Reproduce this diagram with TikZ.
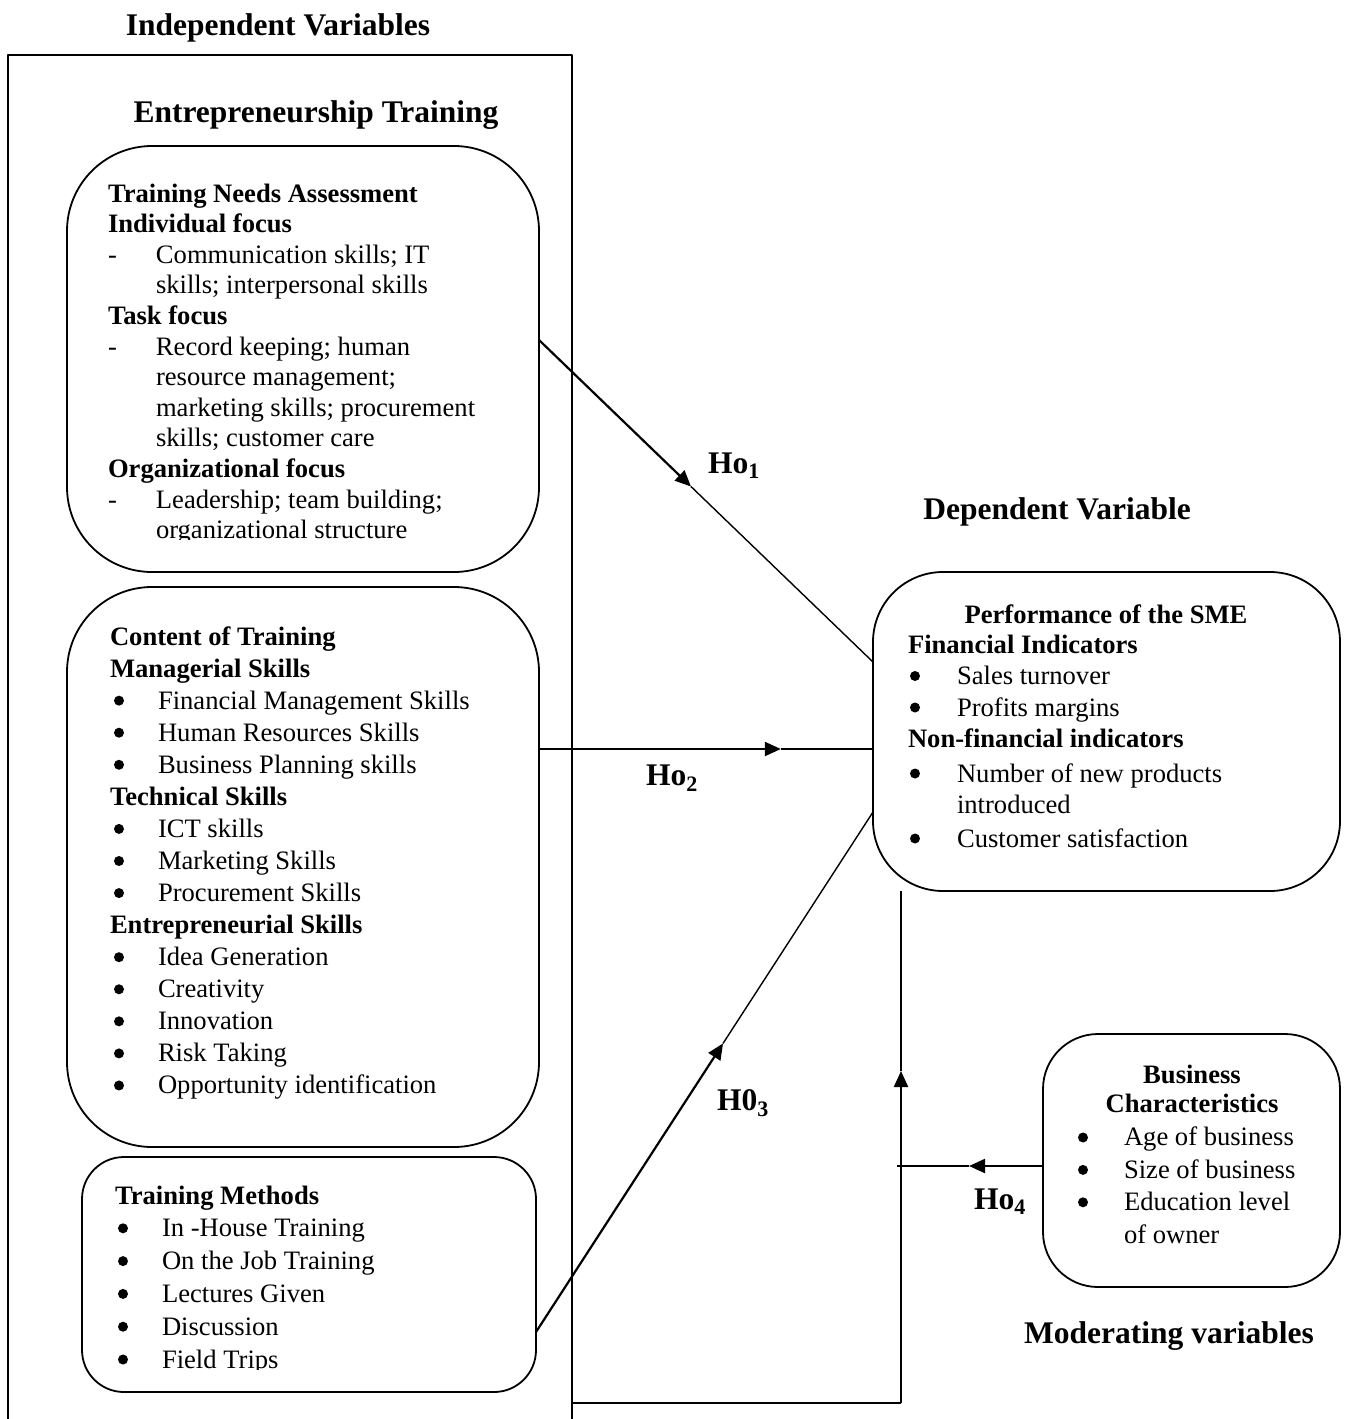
\documentclass[tikz,border=0pt]{standalone}
\usepackage{fontspec}
\setmainfont{Liberation Serif}
\usetikzlibrary{arrows.meta,calc}
\newcommand\bodyfont[1]{\fontsize{26.6pt}{#1}\selectfont}
\newcommand\titlefont{\fontsize{31.5pt}{36pt}\selectfont\bfseries}
\newcommand\bitem[2]{\hspace*{#1}#2}
\newcommand\ditem[2]{\makebox[#1][l]{-}#2}
\newcommand\contline[2]{\hspace*{#1}#2}
\begin{document}
\begin{tikzpicture}[x=1pt,y=-1pt,line join=round,
  box/.style={draw,line width=1.8pt,rounded corners=#1,inner sep=0pt,outer sep=0pt},
  txt/.style={inner sep=0pt,outer sep=0pt,anchor=north west,align=left},
  ttl/.style={inner sep=0pt,outer sep=0pt,anchor=base,font=\titlefont},
  lbl/.style={inner sep=0pt,outer sep=0pt,anchor=base west,font=\titlefont},
  arr/.style={line width=2.2pt,-{Triangle[length=16pt,width=14pt]}},
  tail/.style={line width=1.4pt},
  dot/.style={fill=black}]
\fill[white] (0,0) rectangle (1349,1419);
\useasboundingbox (0,0) rectangle (1349,1419);

% titles
\node[ttl] (tindep) at (278,35) {Independent Variables};
\node[ttl] (tentre) at (316,122) {Entrepreneurship Training};
\node[ttl] (tdep) at (1057,519) {Dependent Variable};
\node[ttl] (tmod) at (1169,1343) {Moderating variables};

% outer frame of independent variables
\draw[line width=1.8pt] (8,1430) -- (8,55) -- (572,55) -- (572,1430);
\coordinate (orb) at (572,1403);

% boxes
\node[box=85pt,minimum width=472pt,minimum height=426pt] (tna) at (303,359) {};
\node[box=85pt,minimum width=472pt,minimum height=560pt] (cont) at (303,867) {};
\node[box=42pt,minimum width=454pt,minimum height=235pt] (meth) at (309,1274.5) {};
\node[box=70pt,minimum width=467pt,minimum height=319pt] (dv) at (1106.5,731.5) {};
\node[box=55pt,minimum width=297pt,minimum height=253pt] (mod) at (1191.5,1160.5) {};

% box texts
\begin{scope}
\clip (60,150) rectangle (545,539);
\node[txt,font=\bodyfont{30.6pt}] (tnatext) at (108,180.6) {%
\strut\textbf{Training Needs Assessment}\\
\textbf{Individual focus}\\
\ditem{48pt}{Communication skills; IT}\\
\contline{48pt}{skills; interpersonal skills}\\
\textbf{Task focus}\\
\ditem{48pt}{Record keeping; human}\\
\contline{48pt}{resource management;}\\
\contline{48pt}{marketing skills; procurement}\\
\contline{48pt}{skills; customer care}\\
\textbf{Organizational focus}\\
\ditem{48pt}{Leadership; team building;}\\
\contline{48pt}{organizational structure}};
\end{scope}

\node[txt,font=\bodyfont{32.07pt}] (conttext) at (110,622.55) {%
\strut\textbf{Content of Training}\\
\textbf{Managerial Skills}\\
\bitem{48pt}{Financial Management Skills}\\
\bitem{48pt}{Human Resources Skills}\\
\bitem{48pt}{Business Planning skills}\\
\textbf{Technical Skills}\\
\bitem{48pt}{ICT skills}\\
\bitem{48pt}{Marketing Skills}\\
\bitem{48pt}{Procurement Skills}\\
\textbf{Entrepreneurial Skills}\\
\bitem{48pt}{Idea Generation}\\
\bitem{48pt}{Creativity}\\
\bitem{48pt}{Innovation}\\
\bitem{48pt}{Risk Taking}\\
\bitem{48pt}{Opportunity identification}};
\foreach \k in {2,3,4,6,7,8,10,11,12,13,14}
  \fill[dot] (119,{645+32.07*\k-8.5}) circle (5pt);

\begin{scope}
\clip (80,1160) rectangle (540,1369);
\node[txt,font=\bodyfont{32.8pt}] (methtext) at (115,1181.04) {%
\strut\textbf{Training Methods}\\
\bitem{47pt}{In -House Training}\\
\bitem{47pt}{On the Job Training}\\
\bitem{47pt}{Lectures Given}\\
\bitem{47pt}{Discussion}\\
\bitem{47pt}{Field Trips}};
\end{scope}
\foreach \k in {1,...,5}
  \fill[dot] (123,{1204+32.8*\k-8.5}) circle (5pt);

\node[inner sep=0pt,anchor=base,font=\bodyfont{31.5pt}\bfseries] (dvhead) at (1106,623) {Performance of the SME};
\node[txt,font=\bodyfont{31.5pt}] (dvtext) at (908,630.95) {%
\strut\textbf{Financial Indicators}\\
\bitem{49pt}{Sales turnover}\\
\bitem{49pt}{Profits margins}\\
\textbf{Non-financial indicators}\\[3pt]
\bitem{49pt}{Number of new products}\\
\contline{49pt}{introduced}\\[2pt]
\bitem{49pt}{Customer satisfaction}};
\foreach \b in {684.5,716,782,847}
  \fill[dot] (915,{\b-8.5}) circle (5pt);

\node[inner sep=0pt,anchor=north,align=center,font=\bodyfont{29.5pt}\bfseries] (modhead) at (1192,1062.4) {\strut Business\\Characteristics};
\node[txt,font=\bodyfont{32.4pt}] (modtext) at (1077,1123.3) {%
\strut\bitem{47pt}{Age of business}\\
\bitem{47pt}{Size of business}\\
\bitem{47pt}{Education level}\\
\contline{47pt}{of owner}};
\foreach \k in {0,1,2}
  \fill[dot] (1083,{1146+32.4*\k-8.5}) circle (5pt);

% connectors
\coordinate (s1) at (tna.east |- 0,340);
\coordinate (e1) at (dv.west |- 0,662);
\coordinate (t1) at ($(s1)!0.455!(e1)$);
\draw[arr] (s1) -- (t1);
\draw[tail] (t1) -- (e1);

\coordinate (s2) at (cont.east |- 0,749);
\coordinate (e2) at (dv.west |- 0,749);
\coordinate (t2) at ($(s2)!0.724!(e2)$);
\draw[arr] (s2) -- (t2);
\draw[tail] (t2) -- (e2);

\coordinate (s3) at (meth.east |- 0,1332);
\coordinate (e3) at (dv.west |- 0,812);
\coordinate (t3) at ($(s3)!0.555!(e3)$);
\draw[arr] (s3) -- (t3);
\draw[tail] (t3) -- (e3);

\coordinate (c2) at (901,1403);
\coordinate (t5) at (901,1071);
\draw[line width=1.8pt] (orb) -- (c2);
\draw[arr] (c2) -- (t5);
\draw[tail] (t5) -- (dv.south -| c2);

\coordinate (j) at (901,1166);
\coordinate (t4) at (969,1166);
\draw[arr] (mod.west |- j) -- (t4);
\draw[tail] (t4) -- ($(j)+(-4,0)$);

% hypothesis labels
\node[lbl] (h1) at (708,473) {Ho\textsubscript{1}};
\node[lbl] (h2) at (646,785) {Ho\textsubscript{2}};
\node[lbl] (h3) at (717,1110) {H0\textsubscript{3}};
\node[lbl] (h4) at (974,1209) {Ho\textsubscript{4}};
\end{tikzpicture}
\end{document}
